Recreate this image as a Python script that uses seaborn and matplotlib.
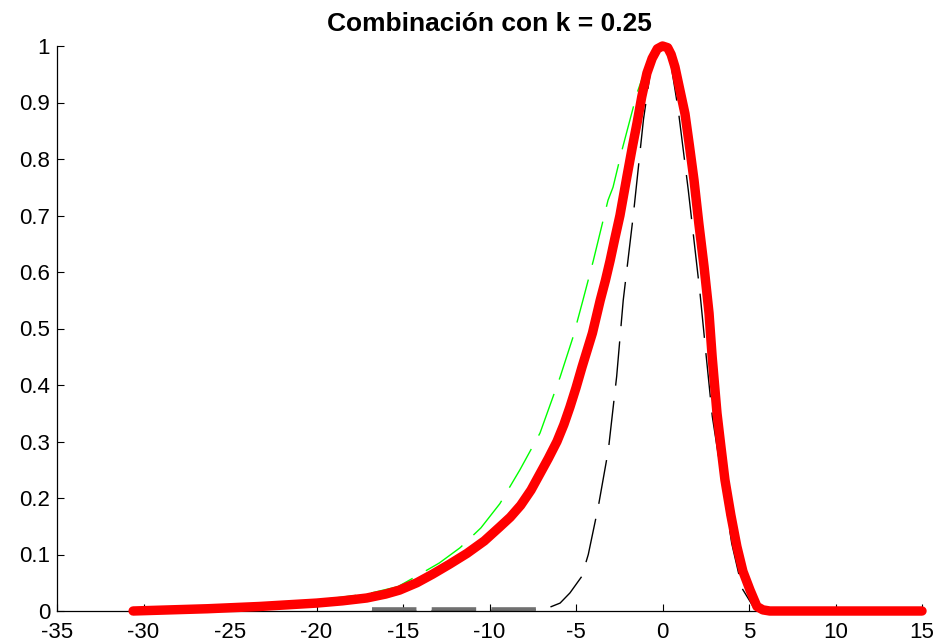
import matplotlib
matplotlib.use("Agg")
import matplotlib.pyplot as plt
import seaborn as sns

# --- data ---
red_x = [-30.6, -26.3, -23.3, -20.0, -18.5, -17.1, -16.0, -15.2, -14.2, -13.3, -12.3,
         -11.3, -10.3, -9.4, -8.8, -8.2, -7.6, -7.1, -6.6, -6.1, -5.7, -5.35, -5.0,
         -4.65, -4.35, -4.05, -3.6, -3.3, -3.03, -2.75, -2.46, -2.05, -1.75, -1.47,
         -1.2, -0.9, -0.6, -0.3, 0.0, 0.3, 0.5, 0.72, 0.95, 1.3, 1.55, 1.82, 2.1, 2.4,
         2.69, 2.87, 3.15, 3.38, 3.61, 3.95, 4.3, 4.65, 5.06, 5.46, 5.8, 6.2, 15.0]
red_y = [0.0, 0.004, 0.008, 0.014, 0.018, 0.023, 0.03, 0.037, 0.05, 0.065, 0.083,
         0.102, 0.124, 0.149, 0.166, 0.187, 0.214, 0.242, 0.27, 0.30, 0.33, 0.361, 0.395,
         0.432, 0.462, 0.492, 0.55, 0.585, 0.62, 0.66, 0.70, 0.77, 0.82, 0.864,
         0.91, 0.952, 0.978, 0.995, 1.0, 0.997, 0.985, 0.963, 0.93, 0.88, 0.825, 0.763,
         0.686, 0.61, 0.527, 0.45, 0.35, 0.29, 0.232, 0.17, 0.114, 0.07, 0.037, 0.008,
         0.002, 0.0, 0.0]

green_x = [-30.6, -25.0, -20.0, -17.1, -15.3, -14.2, -12.9, -11.7, -10.5, -9.4, -8.24,
           -7.08, -5.92, -5.17, -4.6, -4.0, -3.15, -2.86, -2.34, -1.47, -0.8, 0.0, 0.72,
           1.3, 1.82, 2.1, 2.69, 2.87, 3.15, 3.61, 4.3, 5.06, 5.46, 6.2]
green_y = [0.0, 0.005, 0.019, 0.03, 0.043, 0.062, 0.085, 0.112, 0.147, 0.19, 0.25,
           0.315, 0.414, 0.485, 0.55, 0.62, 0.727, 0.75, 0.816, 0.917, 0.975, 1.0, 0.963,
           0.88, 0.763, 0.686, 0.527, 0.45, 0.35, 0.232, 0.114, 0.037, 0.008, 0.0]

black_x = [-16.8, -6.9, -5.92, -5.35, -4.67, -4.29, -3.71, -3.13, -2.65, -2.27, -1.69,
           -1.1, -0.72, -0.35, 0.0, 0.4, 0.91, 1.49, 2.17, 2.52, 2.88, 3.42, 4.0, 4.6,
           5.3, 6.0]
black_y = [0.0, 0.002, 0.014, 0.032, 0.061, 0.10, 0.185, 0.285, 0.415, 0.55, 0.70,
           0.87, 0.95, 0.99, 1.0, 0.985, 0.887, 0.745, 0.562, 0.453, 0.344, 0.238, 0.12,
           0.04, 0.005, 0.0]

base_x = [-16.8, -6.9]
base_y = [0.004, 0.004]

title = "Combinación con k = 0.25"
x_ticks = [-35, -30, -25, -20, -15, -10, -5, 0, 5, 10, 15]
y_ticks = [0, 0.1, 0.2, 0.3, 0.4, 0.5, 0.6, 0.7, 0.8, 0.9, 1]
y_labels = ["0", "0.1", "0.2", "0.3", "0.4", "0.5", "0.6", "0.7", "0.8", "0.9", "1"]

sns.set_style("ticks", {"xtick.direction": "in", "ytick.direction": "in"})
plt.rcParams["font.family"] = ["Liberation Sans", "DejaVu Sans"]

fig = plt.figure(figsize=(9.43, 6.44), dpi=100)
ax = fig.add_axes([57 / 943, 1 - 611 / 644, (922 - 57) / 943, (611 - 46) / 644])

dash = (0, (32, 11))
base_lw = 2.6
sns.lineplot(x=base_x, y=base_y, ax=ax, color="#707070", lw=base_lw,
             linestyle=(0, (32 / base_lw, 11 / base_lw)),
             sort=False, estimator=None, zorder=3)
ax.lines[-1].set_clip_on(False)
sns.lineplot(x=green_x, y=green_y, ax=ax, color="#00ff00", lw=1.0, linestyle=dash,
             sort=False, estimator=None, zorder=2)
sns.lineplot(x=black_x, y=black_y, ax=ax, color="black", lw=1.0, linestyle=dash,
             sort=False, estimator=None, zorder=2)
sns.lineplot(x=red_x, y=red_y, ax=ax, color="#ff0000", lw=6.8, sort=False,
             estimator=None, zorder=4, solid_joinstyle="round")
ax.lines[-1].set_clip_on(False)

ax.set_xlim(-35, 15)
ax.set_ylim(0, 1)
ax.set_xticks(x_ticks)
ax.set_xticklabels([str(t) for t in x_ticks])
ax.set_yticks(y_ticks)
ax.set_yticklabels(y_labels)
ax.tick_params(axis="both", direction="in", length=5, width=0.8, labelsize=16,
               colors="black")
ax.tick_params(axis="y", pad=5)
ax.tick_params(axis="x", pad=8)
sns.despine(ax=ax, top=True, right=True)
for s in ["left", "bottom"]:
    ax.spines[s].set_linewidth(0.9)
    ax.spines[s].set_color("black")
ax.set_xlabel("")
ax.set_ylabel("")
ax.set_title(title, fontsize=19, fontweight="bold", pad=11, color="black")

fig.savefig("out.png", dpi=100)
